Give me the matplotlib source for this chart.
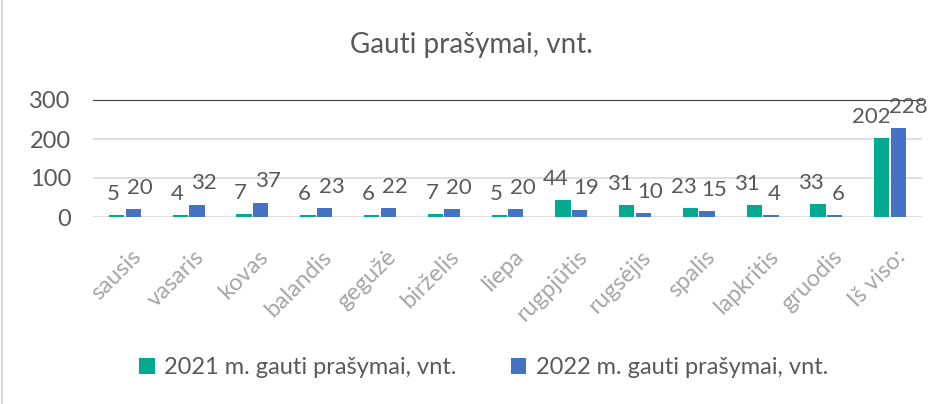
import numpy as np
import matplotlib.pyplot as plt

plt.rcParams['font.family'] = ['Lato', 'DejaVu Sans']

# duomenys
months = ["sausis", "vasaris", "kovas", "balandis", "gegužė", "birželis", "liepa",
          "rugpjūtis", "rugsėjis", "spalis", "lapkritis", "gruodis", "Iš viso:"]
req_2021 = [5, 4, 7, 6, 6, 7, 5, 44, 31, 23, 31, 33, 202]
req_2022 = [20, 32, 37, 23, 22, 20, 20, 19, 10, 15, 4, 6, 228]

GREEN = "#00A98F"
BLUE = "#4472C4"
TEXT = "#595959"

fig = plt.figure(figsize=(9.43, 4.04), dpi=100)
ax = fig.add_axes([93 / 943, 1 - 217 / 404, (922 - 93) / 943, 117 / 404])

x = np.arange(len(months))
w = 0.24
b1 = ax.bar(x - 0.13, req_2021, w, color=GREEN, label="2021 m. gauti prašymai, vnt.")
b2 = ax.bar(x + 0.13, req_2022, w, color=BLUE, label="2022 m. gauti prašymai, vnt.")

# reikšmės virš stulpelių
for bars, sgn in ((b1, -1), (b2, 1)):
    for r in bars:
        lbl = str(int(r.get_height()))
        ax.annotate(lbl, (r.get_x() + r.get_width() / 2, r.get_height()),
                    xytext=(sgn * 2.5 * len(lbl), 8), textcoords="offset points",
                    ha="center", va="bottom", fontsize=16, color=TEXT)

ax.set_xlim(-0.5, len(months) - 0.5)
ax.set_ylim(0, 300)
ax.set_yticks([0, 100, 200, 300])
ax.yaxis.grid(True, color="#D9D9D9", linewidth=1.2)
ax.set_axisbelow(True)
for s in ["left", "right", "bottom"]:
    ax.spines[s].set_visible(False)
ax.spines["top"].set_color("#404040")
ax.tick_params(axis="both", length=0, colors=TEXT, labelsize=17)
ax.tick_params(axis="y", pad=16)
ax.tick_params(axis="x", pad=21)
ax.set_xticks(x + 0.08)
ax.set_xticklabels(months, rotation=45, ha="right", rotation_mode="anchor",
                   color="#A6A6A6", fontsize=17)

fig.text(0.5, 1 - 45 / 404, "Gauti prašymai, vnt.", ha="center", va="center",
         fontsize=20, color=TEXT)
fig.legend(loc="center", bbox_to_anchor=(0.513, 1 - 368 / 404), ncol=2, frameon=False,
           fontsize=17, labelcolor=TEXT, handlelength=0.65, handleheight=0.65,
           handletextpad=0.4, columnspacing=2.3)

fig.add_artist(plt.Line2D([2 / 943, 2 / 943], [0, 1], color="#D9D9D9", linewidth=1.5))
fig.savefig("out.png", dpi=100)
